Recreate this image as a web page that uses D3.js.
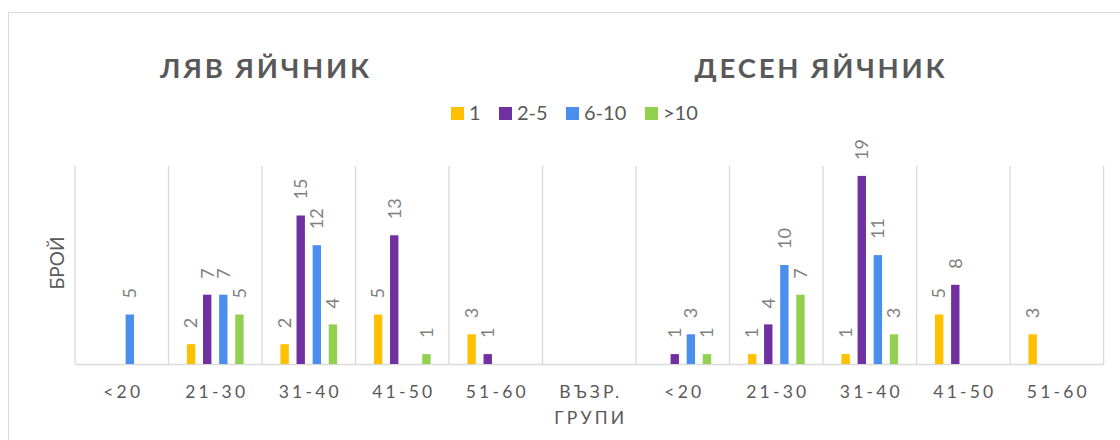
<!DOCTYPE html>
<html>
<head>
<meta charset="utf-8">
<script src="https://cdn.jsdelivr.net/npm/d3@7"></script>
<style>
  body { margin: 0; background: #fff; }
  text { font-family: Lato, "Open Sans", sans-serif; }
</style>
</head>
<body>
<div id="chart"></div>
<script>
// categories (two ovaries side by side, separated by the "ВЪЗР. ГРУПИ" slot)
var categories = ["<20", "21-30", "31-40", "41-50", "51-60", "ВЪЗР.|ГРУПИ",
                  "<20", "21-30", "31-40", "41-50", "51-60"];
var seriesNames = ["1", "2-5", "6-10", ">10"];
var colors = ["#FFC000", "#7030A0", "#4A8FEE", "#92D050"];

// values per series (null = no bar)
var s1   = [null, 2, 2, 5, 3, null, null, 1, 1, 5, 3];
var s25  = [null, 7, 15, 13, 1, null, 1, 4, 19, 8, null];
var s610 = [5, 7, 12, null, null, null, 3, 10, 11, null, null];
var s10  = [null, 5, 4, 1, null, null, 1, 7, 3, null, null];
var seriesValues = [s1, s25, s610, s10];

var titles = ["ЛЯВ ЯЙЧНИК", "ДЕСЕН ЯЙЧНИК"];
var yTitle = "БРОЙ";

var visualize = function() {
  var width = 1120, height = 440;

  var svg = d3.select("#chart")
    .append("svg")
    .attr("width", width)
    .attr("height", height);

  // chart border
  svg.append("rect")
    .attr("x", 8.5).attr("y", 12.5)
    .attr("width", 1200).attr("height", 500)
    .attr("fill", "#fff")
    .attr("stroke", "#d9d9d9");

  var left = 75, right = 1103.6, top = 166, bottom = 364;

  var xscale = d3.scaleBand()
    .domain(d3.range(categories.length))
    .range([left, right]);

  var inner = d3.scaleBand()
    .domain(seriesNames)
    .range([-32.2, 32.2])
    .paddingInner(0.48)
    .paddingOuter(0.24);

  var yscale = d3.scaleLinear()
    .domain([0, 20])
    .range([bottom, top]);

  // vertical category gridlines
  var bounds = d3.range(categories.length + 1).map(function(i) {
    return i < categories.length ? xscale(i) : right;
  });
  svg.selectAll("line.grid")
    .data(bounds)
    .enter()
    .append("line")
    .attr("class", "grid")
    .attr("x1", function(d) { return d; })
    .attr("x2", function(d) { return d; })
    .attr("y1", top)
    .attr("y2", bottom)
    .attr("stroke", "#d9d9d9")
    .attr("stroke-width", 1.3);

  // category axis
  var xaxis = d3.axisBottom(xscale)
    .tickSize(0)
    .tickFormat(function(i) { return categories[i]; });
  var gx = svg.append("g")
    .attr("transform", "translate(0," + bottom + ")")
    .call(xaxis);
  gx.select(".domain").attr("stroke", "#d9d9d9").attr("stroke-width", 1.5);
  gx.selectAll(".tick text").remove();
  gx.selectAll(".tick").each(function(i) {
    var lines = categories[i].split("|");
    var t = d3.select(this).append("text")
      .attr("text-anchor", "middle")
      .attr("fill", "#595959")
      .style("font-size", "17.5px")
      .style("letter-spacing", "3.2px");
    lines.forEach(function(l, k) {
      t.append("tspan")
        .attr("x", 1.5)
        .attr("y", 34 + k * 26)
        .text(l);
    });
  });

  // bars
  seriesNames.forEach(function(name, si) {
    var pts = seriesValues[si]
      .map(function(v, i) { return { i: i, v: v }; })
      .filter(function(d) { return d.v != null; });

    svg.selectAll("rect.s" + si)
      .data(pts)
      .enter()
      .append("rect")
      .attr("class", "s" + si)
      .attr("x", function(d) { return xscale(d.i) + xscale.bandwidth() / 2 + inner(name); })
      .attr("y", function(d) { return yscale(d.v); })
      .attr("width", inner.bandwidth())
      .attr("height", function(d) { return bottom - yscale(d.v); })
      .attr("fill", colors[si]);

    svg.selectAll("text.l" + si)
      .data(pts)
      .enter()
      .append("text")
      .attr("class", "l" + si)
      .attr("transform", function(d) {
        var cx = xscale(d.i) + xscale.bandwidth() / 2 + inner(name) + inner.bandwidth() / 2;
        return "translate(" + cx + "," + (yscale(d.v) - 16) + ") rotate(-90)";
      })
      .attr("dy", "0.35em")
      .attr("text-anchor", "start")
      .attr("fill", "#7f7f7f")
      .style("font-size", "18px")
      .text(function(d) { return d.v; });
  });

  // titles
  var titleX = [266, 821];
  titles.forEach(function(t, k) {
    svg.append("text")
      .attr("x", titleX[k])
      .attr("y", 78)
      .attr("text-anchor", "middle")
      .attr("fill", "#595959")
      .style("font-size", "27.5px")
      .style("font-weight", "bold")
      .style("letter-spacing", "2.8px")
      .text(t);
  });

  // legend
  var legendX = [451, 499, 566, 645];
  seriesNames.forEach(function(name, si) {
    var g = svg.append("g").attr("transform", "translate(" + legendX[si] + ",107)");
    g.append("rect")
      .attr("width", 13).attr("height", 13)
      .attr("fill", colors[si]);
    g.append("text")
      .attr("x", 18)
      .attr("y", 13)
      .attr("fill", "#595959")
      .style("font-size", "20px")
      .text(name);
  });

  // y axis title
  svg.append("text")
    .attr("transform", "translate(64,263) rotate(-90)")
    .attr("text-anchor", "middle")
    .attr("fill", "#595959")
    .style("font-size", "19px")
    .text(yTitle);
};

visualize();
</script>
</body>
</html>
